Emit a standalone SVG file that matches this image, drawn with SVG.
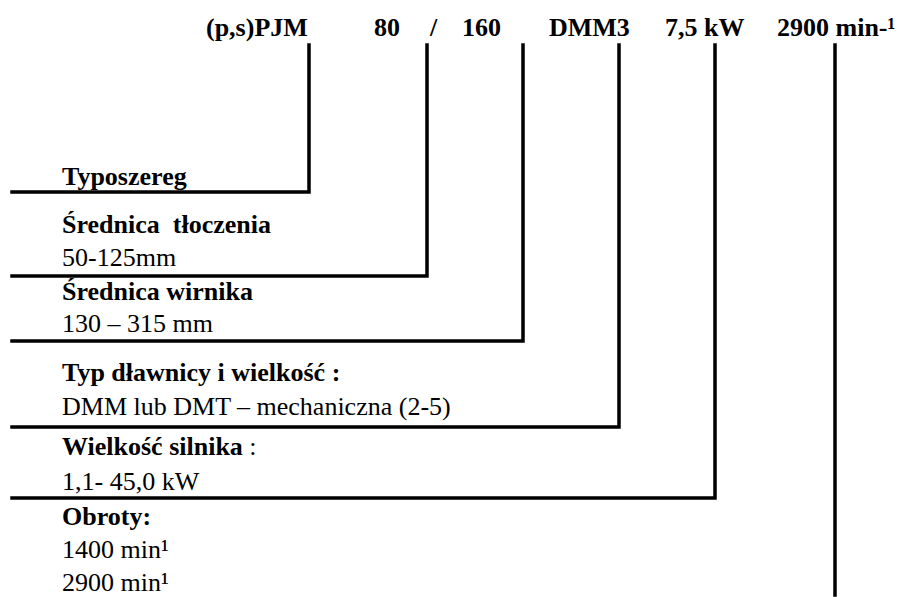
<svg xmlns="http://www.w3.org/2000/svg" width="901" height="597" viewBox="0 0 901 597">
<style>
text{font-family:"Liberation Serif","Times New Roman",serif;fill:#000;font-size:26px}
.b{font-weight:bold}
.ln{fill:none;stroke:#000;stroke-width:3.5;stroke-linecap:square;stroke-linejoin:miter}
</style>
<rect width="901" height="597" fill="#fff"/>
<g id="header">
<text class="b" x="206" y="36">(p,s)PJM</text>
<text class="b" x="374" y="36">80</text>
<text class="b" x="430" y="36">/</text>
<text class="b" x="462" y="36">160</text>
<text class="b" x="549" y="36">DMM3</text>
<text class="b" x="665" y="36">7,5 kW</text>
<text class="b" x="777" y="36">2900 min-¹</text>
</g>
<g id="connectors">
<path class="ln" d="M12 192 H309 V45"/>
<path class="ln" d="M12 276 H427 V45"/>
<path class="ln" d="M12 341 H523 V45"/>
<path class="ln" d="M12 427 H619 V45"/>
<path class="ln" d="M12 498 H715 V45"/>
<path class="ln" d="M835 45 V595"/>
</g>
<g id="typoszereg"><text class="b" x="62" y="185">Typoszereg</text></g>
<g id="srednica-tloczenia">
<text class="b" x="62" y="233" xml:space="preserve">Średnica  tłoczenia</text>
<text x="62" y="266">50-125mm</text>
</g>
<g id="srednica-wirnika">
<text class="b" x="62" y="300">Średnica wirnika</text>
<text x="62" y="332">130 – 315 mm</text>
</g>
<g id="typ-dlawnicy">
<text class="b" x="62" y="381">Typ dławnicy i wielkość :</text>
<text x="62" y="415">DMM lub DMT – mechaniczna (2-5)</text>
</g>
<g id="wielkosc-silnika">
<text x="62" y="455"><tspan class="b">Wielkość silnika</tspan> :</text>
<text x="62" y="490">1,1- 45,0 kW</text>
</g>
<g id="obroty">
<text class="b" x="62" y="525">Obroty:</text>
<text x="62" y="558">1400 min¹</text>
<text x="62" y="591">2900 min¹</text>
</g>
</svg>
